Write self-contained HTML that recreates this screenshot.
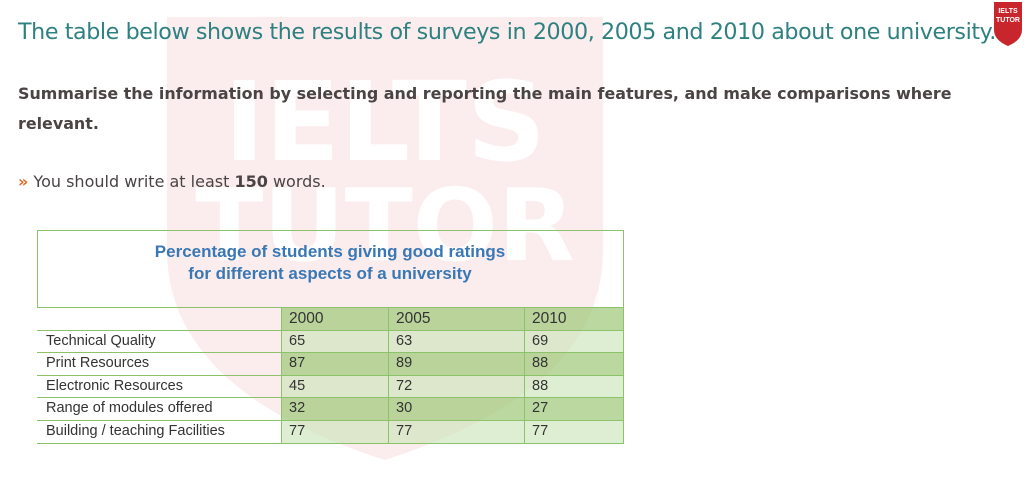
<!DOCTYPE html>
<html><head><meta charset="utf-8"><style>
body{margin:0;width:1026px;height:477px;background:#fff;position:relative;overflow:hidden;font-family:"Liberation Sans","DejaVu Sans",sans-serif}
.a{position:absolute;white-space:nowrap}
.t{font-family:"DejaVu Sans",sans-serif}
.c{position:absolute;font-size:14.5px;color:#333;line-height:22px}
</style></head><body>
<svg class="a" style="left:0;top:0" width="1026" height="477">
<path d="M167,17 H603 V250 Q603,390 385,460 Q167,390 167,250 Z" fill="#fbeded"/>
<text x="385" y="160" font-family="DejaVu Sans" font-weight="bold" font-size="110" fill="#fff" text-anchor="middle">IELTS</text>
<text x="385" y="260" font-family="DejaVu Sans" font-weight="bold" font-size="100" fill="#fff" text-anchor="middle">TUTOR</text>
<path d="M994,2 H1022 V30 Q1022,40 1008,46 Q994,40 994,30 Z" fill="#c8252c"/>
<text x="1008" y="13" font-size="7" font-weight="bold" fill="#fff" text-anchor="middle" font-family="Liberation Sans">IELTS</text>
<text x="1008" y="22" font-size="7" font-weight="bold" fill="#fff" text-anchor="middle" font-family="Liberation Sans">TUTOR</text>
<rect x="37.5" y="230.5" width="586" height="77" fill="none" stroke="#8cc36a"/>
<g>
<rect x="281" y="308" width="343" height="22" fill="#9cc878" opacity="0.7"/>
<rect x="281" y="330" width="343" height="22" fill="#c8e2b4" opacity="0.6"/>
<rect x="281" y="352" width="343" height="23" fill="#9cc878" opacity="0.7"/>
<rect x="281" y="375" width="343" height="22" fill="#c8e2b4" opacity="0.6"/>
<rect x="281" y="397" width="343" height="23" fill="#9cc878" opacity="0.7"/>
<rect x="281" y="420" width="343" height="23" fill="#c8e2b4" opacity="0.6"/>
</g>
<g stroke="#8cc36a" stroke-width="1">
<line x1="37" y1="330.5" x2="624" y2="330.5"/>
<line x1="37" y1="352.5" x2="624" y2="352.5"/>
<line x1="37" y1="375.5" x2="624" y2="375.5"/>
<line x1="37" y1="397.5" x2="624" y2="397.5"/>
<line x1="37" y1="420.5" x2="624" y2="420.5"/>
<line x1="37" y1="443.5" x2="624" y2="443.5"/>
<line x1="281.5" y1="307" x2="281.5" y2="444"/>
<line x1="388.5" y1="307" x2="388.5" y2="444"/>
<line x1="524.5" y1="307" x2="524.5" y2="444"/>
<line x1="623.5" y1="307" x2="623.5" y2="444"/>
</g>
<text x="330" y="257" font-family="Liberation Sans" font-weight="bold" font-size="17" fill="#3a78b5" text-anchor="middle">Percentage of students giving good ratings</text>
<text x="330" y="279" font-family="Liberation Sans" font-weight="bold" font-size="17" fill="#3a78b5" text-anchor="middle">for different aspects of a university</text>
</svg>
<div class="a t" style="left:18px;top:19px;font-size:22.2px;color:#2f8080;letter-spacing:-0.4px">The table below shows the results of surveys in 2000, 2005 and 2010 about one university.</div>
<div class="a t" style="left:18px;top:79px;font-size:15.9px;font-weight:bold;color:#4a4444;line-height:30px;white-space:normal;width:960px">Summarise the information by selecting and reporting the main features, and make comparisons where relevant.</div>
<div class="a t" style="left:18px;top:172px;font-size:16px;color:#4a4444"><b style="color:#e06a2a">»</b> You should write at least <b>150</b> words.</div>
<div class="c" style="left:46px;top:330px">Technical Quality</div>
<div class="c" style="left:46px;top:352px">Print Resources</div>
<div class="c" style="left:46px;top:375px">Electronic Resources</div>
<div class="c" style="left:46px;top:397px">Range of modules offered</div>
<div class="c" style="left:46px;top:420px">Building / teaching Facilities</div>
<div class="c" style="left:289px;top:308px;font-size:15.5px">2000</div>
<div class="c" style="left:396px;top:308px;font-size:15.5px">2005</div>
<div class="c" style="left:532px;top:308px;font-size:15.5px">2010</div>
<div class="c" style="left:289px;top:330px">65</div><div class="c" style="left:396px;top:330px">63</div><div class="c" style="left:532px;top:330px">69</div>
<div class="c" style="left:289px;top:352px">87</div><div class="c" style="left:396px;top:352px">89</div><div class="c" style="left:532px;top:352px">88</div>
<div class="c" style="left:289px;top:375px">45</div><div class="c" style="left:396px;top:375px">72</div><div class="c" style="left:532px;top:375px">88</div>
<div class="c" style="left:289px;top:397px">32</div><div class="c" style="left:396px;top:397px">30</div><div class="c" style="left:532px;top:397px">27</div>
<div class="c" style="left:289px;top:420px">77</div><div class="c" style="left:396px;top:420px">77</div><div class="c" style="left:532px;top:420px">77</div>
</body></html>
